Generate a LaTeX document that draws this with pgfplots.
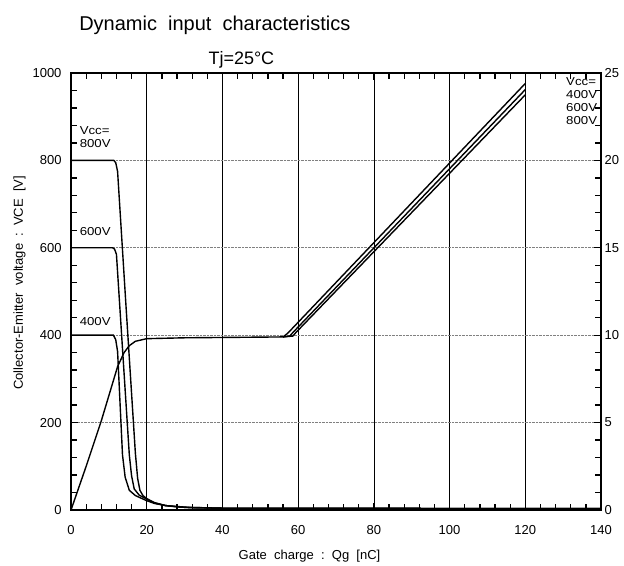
\documentclass[border=0pt]{standalone}
\usepackage{pgfplots}
\pgfplotsset{compat=1.18}
\usepackage{fontspec}
\setmainfont{Liberation Sans}
\newfontfamily\smallfont[FakeStretch=1.15]{Liberation Sans}

\begin{document}
\begin{tikzpicture}
\tikzset{
  lab/.style={font=\smallfont\fontsize{11.5}{13}\selectfont, inner sep=1pt},
}
\pgfplotsset{
  base/.style={
    scale only axis, width=530pt, height=437pt,
    xmin=0, xmax=140,
    /pgf/number format/assume math mode=true,
    /pgf/number format/1000 sep={},
    tick label style={font=\fontsize{13}{15}\selectfont},
    axis line style={line width=1.6pt},
    major tick length=7pt, minor tick length=6pt,
    every tick/.style={line width=1.3pt, black},
  },
  curve/.style={black, line width=1.4pt, no marks},
}
% main axis: collector-emitter voltage
\begin{axis}[base,
  ymin=0, ymax=1000,
  xtick={0,20,...,140}, minor x tick num=4, xtick pos=both,
  ytick={0,200,...,1000}, minor y tick num=4, ytick pos=left,
  grid=major,
  major x grid style={black, line width=0.6pt},
  major y grid style={gray, densely dotted, line width=0.7pt},
  xticklabel style={yshift=-12pt},
  yticklabel style={xshift=-6pt},
  clip=false,
]
% Vcc = 800 V
\addplot[curve] coordinates {
  (0,800) (11.3,800) (11.8,795) (12.3,775) (14.5,470) (17,130)
  (17.6,72) (18.2,45) (19,33) (20,26) (22,17) (25,10) (28,7)
  (32,5) (40,4) (140,3)
};
% Vcc = 600 V
\addplot[curve] coordinates {
  (0,600) (11,600) (11.5,597) (12,585) (15.4,126) (16,78)
  (16.7,48) (18,34) (20,25) (22,16) (25,10) (30,6) (40,4) (140,3)
};
% Vcc = 400 V
\addplot[curve] coordinates {
  (0,400) (11.2,400) (11.8,390) (12.3,363) (13.6,126) (14.3,75)
  (15.4,45) (17,33) (19.8,22) (22,15) (25,10) (31,6) (40,4) (140,3)
};
\node[lab, anchor=west, align=left] at (axis cs:2,853) {Vcc=\\800V};
\node[lab, anchor=west] at (axis cs:2,637) {600V};
\node[lab, anchor=west] at (axis cs:2,432) {400V};
\node[lab, anchor=north west, align=left] at (axis cs:130.5,992) {Vcc=\\400V\\600V\\800V};
\node[font=\fontsize{20}{24}\selectfont] at (axis cs:38,1108) {Dynamic\ \ input\ \ characteristics};
\node[font=\fontsize{18}{22}\selectfont] at (axis cs:45,1030) {Tj=25°C};
\node[font=\fontsize{13}{15}\selectfont] at (rel axis cs:0.45,-0.105) {Gate\ \ charge\ \ :\ \ Qg\ \ [nC]};
\node[font=\fontsize{13}{15}\selectfont, rotate=90] at (rel axis cs:-0.097,0.52) {Collector-Emitter\ \ voltage\ \ :\ \ VCE\ \ [V]};
\coordinate (bl) at (rel axis cs:-0.134,-0.128);
\coordinate (tr) at (rel axis cs:1.0434,1.167);
\end{axis}
% secondary axis: gate-emitter voltage
\begin{axis}[base,
  ymin=0, ymax=25,
  hide x axis,
  axis y line*=right,
  ytick={0,5,...,25}, minor y tick num=4,
]
\addplot[curve] coordinates {
  (0,0) (4,2.5) (8,5.1) (12.3,8.2) (14,9.0) (15.4,9.4) (17,9.65)
  (20,9.8) (30,9.85) (56,9.9) (57.2,10.1) (120,24.4)
};
\addplot[curve] coordinates {
  (56,9.9) (57.8,9.95) (58.6,10.15) (120,24.05)
};
\addplot[curve] coordinates {
  (56,9.9) (58.6,9.95) (59.4,10.15) (120,23.75)
};
\end{axis}
\pgfresetboundingbox
\useasboundingbox (bl) rectangle (tr);
\end{tikzpicture}
\end{document}
